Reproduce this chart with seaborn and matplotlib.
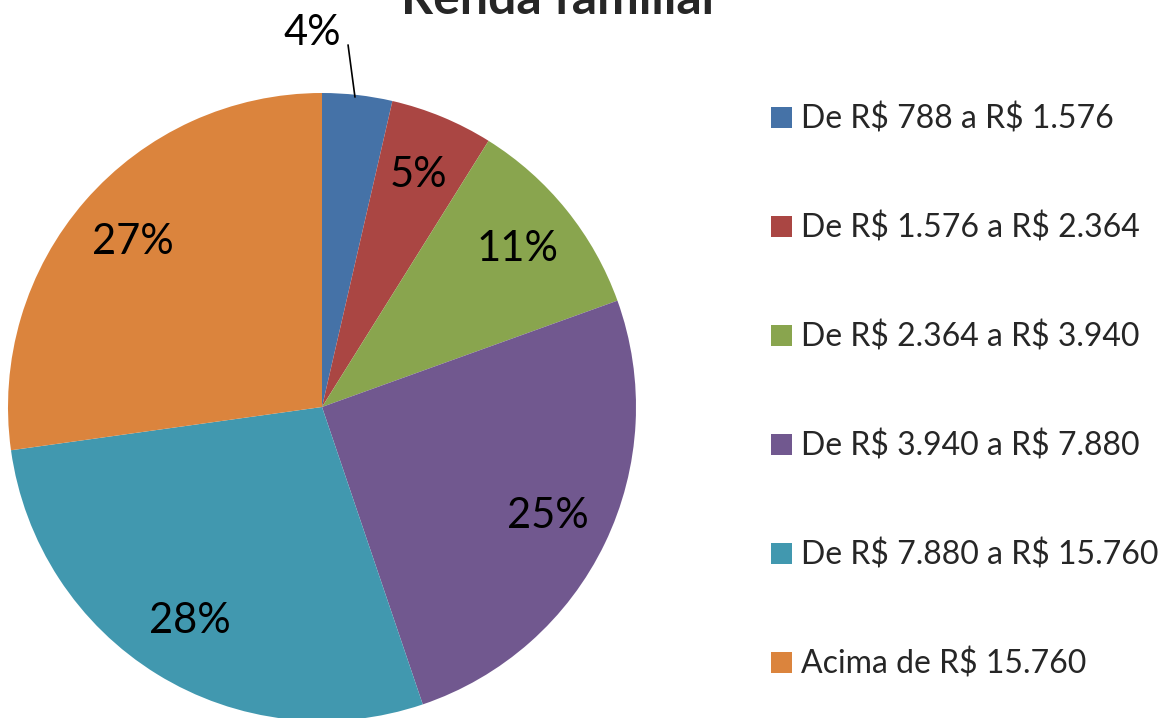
import matplotlib
matplotlib.use("Agg")
import matplotlib.pyplot as plt
import seaborn as sns

categories = ["De R$ 788 a R$ 1.576", "De R$ 1.576 a R$ 2.364", "De R$ 2.364 a R$ 3.940",
              "De R$ 3.940 a R$ 7.880", "De R$ 7.880 a R$ 15.760", "Acima de R$ 15.760"]
values = [3.6, 5.3, 10.6, 25.3, 28.0, 27.2]
colors = ["#4572A7", "#AA4643", "#89A54E", "#71588F", "#4198AF", "#DB843D"]
title = "Renda familiar"

sns.set_theme(style="white")
plt.rcParams['font.family'] = ['Lato', 'DejaVu Sans']
plt.rcParams['text.parse_math'] = False

fig = plt.figure(figsize=(11.73, 7.18), dpi=100)
ax = fig.add_axes([8/1173, -3/718, 628/1173, 628/718])
wedges, texts, autotexts = ax.pie(values, colors=sns.color_palette(colors), startangle=90,
                                  counterclock=False, autopct='%1.0f%%', pctdistance=0.8,
                                  textprops=dict(fontsize=30, color='black'),
                                  wedgeprops=dict(linewidth=0))
ax.set_xlim(-1, 1)
ax.set_ylim(-1, 1)
ax.set_aspect('equal')

# first (small) label outside with leader line
autotexts[0].set_position((-0.03, 1.19))
ax.plot([0.105, 0.083], [0.987, 1.153], color='black', lw=1.2, clip_on=False)
for t in texts + autotexts:
    t.set_clip_on(False)

fig.text(561/1173, 1 - 14/718, title, ha='center', va='baseline', fontsize=36, fontweight='bold')

leg = fig.legend(wedges, categories, loc='upper left', bbox_to_anchor=(771/1173, 1 - 104/718),
                 frameon=False, fontsize=23, labelspacing=2.44, handlelength=0.65, handleheight=0.65,
                 handletextpad=0.3, borderaxespad=0, borderpad=0)

fig.savefig("out.png", dpi=100)
